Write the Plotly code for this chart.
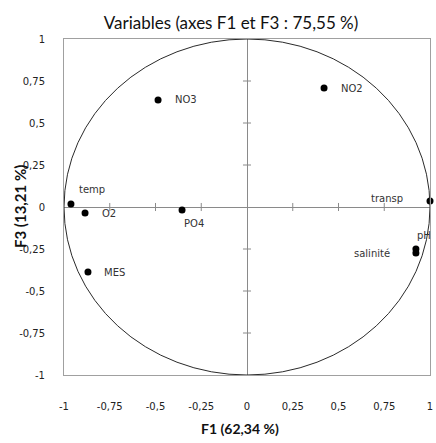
import plotly.graph_objects as go

# Data
variables = ["temp", "O2", "PO4", "MES", "NO3", "NO2", "transp", "pH", "salinité"]
f1_values = [-0.962, -0.885, -0.355, -0.869, -0.486, 0.421, 1.0, 0.923, 0.923]
f3_values = [0.018, -0.036, -0.018, -0.387, 0.637, 0.708, 0.036, -0.25, -0.274]

# label placement (style only)
label_anchor = ["left", "left", "left", "left", "left", "left", "right", "left", "right"]
label_dx = [6, 15, 0, 14, 15, 15, -25, -1, -24]
label_dy = [14, 0, -13, 0, 0, 0, 2, 14, 0]

tick_vals = [-1, -0.75, -0.5, -0.25, 0, 0.25, 0.5, 0.75, 1]
tick_text = ["-1", "-0,75", "-0,5", "-0,25", "0", "0,25", "0,5", "0,75", "1"]

title_text = "Variables (axes F1 et F3 : 75,55 %)"
x_title = "F1 (62,34 %)"
y_title = "F3 (13,21 %)"

fig = go.Figure()

# tick marks on the zero lines (built from tick arrays)
tx, ty = [], []
for v in tick_vals:
    if v in (-1, 0, 1):
        continue
    tx += [v, v, None]
    ty += [-0.024, 0.024, None]
sx, sy = [], []
for v in tick_vals:
    if v in (-1, 0, 1):
        continue
    sx += [-0.022, 0.022, None]
    sy += [v, v, None]
fig.add_trace(go.Scatter(x=tx + sx, y=ty + sy, mode="lines",
                         line=dict(color="#8a8a8a", width=1), hoverinfo="skip", showlegend=False))

fig.add_shape(type="circle", xref="x", yref="y", x0=-1, y0=-1, x1=1, y1=1,
              line=dict(color="#2a2a2a", width=1))

fig.add_trace(go.Scatter(
    x=f1_values, y=f3_values, mode="markers",
    marker=dict(color="black", size=7), showlegend=False, cliponaxis=False))

for name, xv, yv, anc, dx, dy in zip(variables, f1_values, f3_values, label_anchor, label_dx, label_dy):
    fig.add_annotation(x=xv, y=yv, text=name, showarrow=False, xanchor=anc, yanchor="middle",
                       xshift=dx, yshift=dy,
                       font=dict(family="DejaVu Sans", size=10, color="#333333"))

axis_common = dict(
    range=[-1, 1], tickvals=tick_vals, ticktext=tick_text,
    showgrid=False, zeroline=True, zerolinecolor="#8a8a8a", zerolinewidth=1,
    showline=True, linecolor="#a0a0a0", linewidth=1, mirror=True, automargin=False,
    ticks="", tickfont=dict(family="DejaVu Sans", size=10, color="#222222"),
)

fig.update_layout(
    width=436, height=443,
    margin=dict(l=64, r=6, t=39, b=68),
    paper_bgcolor="white", plot_bgcolor="white",
    title=dict(text=title_text, x=231 / 436, xref="container", xanchor="center",
               y=1 - 23 / 443, yref="container", yanchor="middle",
               font=dict(family="Lato", size=17, color="#111111")),
    xaxis=dict(**axis_common, ticklabelstandoff=22),
    yaxis=dict(**axis_common, ticklabelstandoff=16),
)

fig.add_annotation(xref="paper", yref="paper", x=176 / 366, y=0, yshift=-53, xanchor="center",
                   yanchor="middle", showarrow=False, text="<b>" + x_title + "</b>",
                   font=dict(family="Lato", size=14, color="#111111"))
fig.add_annotation(xref="paper", yref="paper", x=0, y=0.5, xshift=-44, xanchor="center",
                   yanchor="middle", showarrow=False, textangle=-90, text="<b>" + y_title + "</b>",
                   font=dict(family="Lato", size=15, color="#111111"))

fig.write_html(
    "out.html",
    config={"displayModeBar": False},
    post_script="document.body.style.margin='0';document.body.style.overflow='hidden';",
)
